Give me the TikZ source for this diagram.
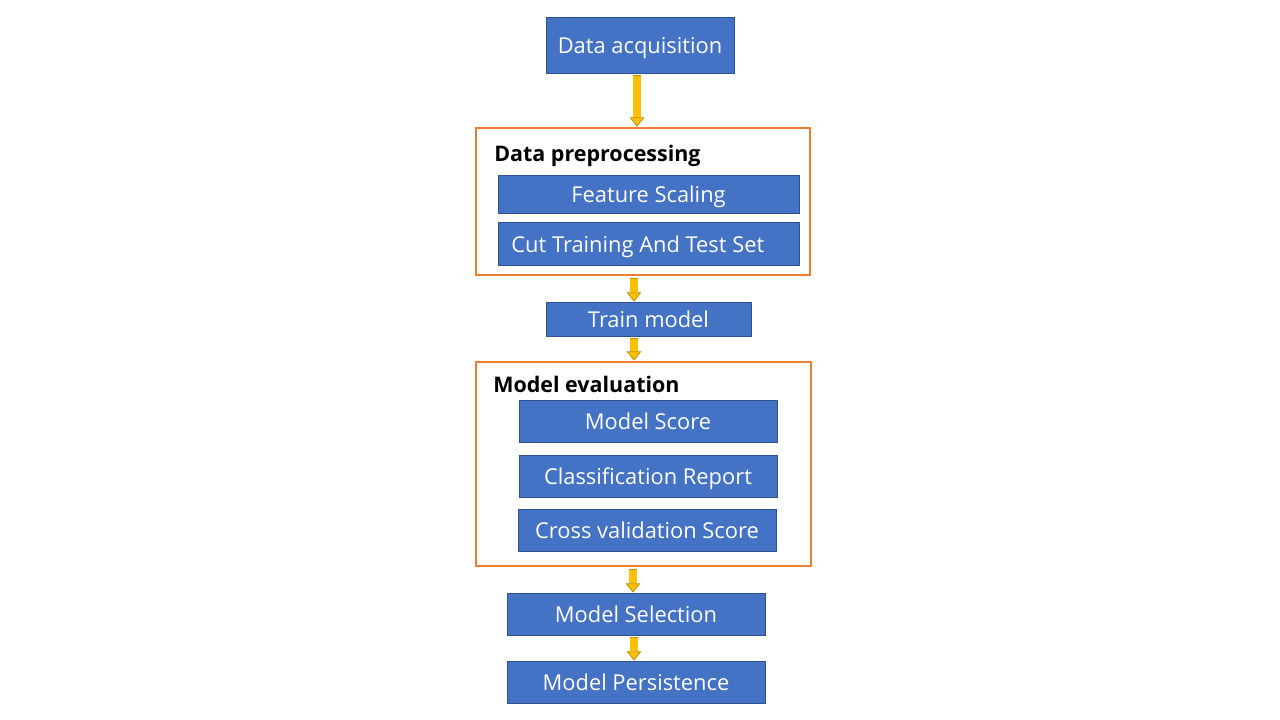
\documentclass[tikz,border=0pt]{standalone}
\usepackage{fontspec}
\setmainfont{Open Sans}
\usetikzlibrary{arrows.meta}
\definecolor{boxblue}{HTML}{4472C4}
\definecolor{boxedge}{HTML}{2F528F}
\definecolor{frameorange}{HTML}{ED7D31}
\definecolor{arrowfill}{HTML}{FFC000}
\definecolor{arrowedge}{HTML}{BF9000}
\tikzset{
  stepbox/.style={draw=boxedge, line width=0.6pt, fill=boxblue, text=white,
    font=\fontsize{16.4}{18}\selectfont, inner sep=0pt, text height=15.8pt, text depth=2.6pt},
  frame/.style={draw=frameorange, line width=2pt, fill=white, inner sep=0pt},
  frametitle/.style={anchor=west, inner sep=0pt, font=\fontsize{16.1}{18}\selectfont\bfseries,
    text=black, text height=14.5pt, text depth=2.5pt},
  flowout/.style={draw=arrowedge, line width=6.6pt, shorten <=1.5pt, shorten >=7pt},
  flowin/.style={draw=arrowfill, line width=5.4pt, shorten <=2.1pt,
    -{Triangle[length=7pt,width=11pt,color=arrowedge,fill=arrowfill,line width=0.6pt]}}
}
\begin{document}
\begin{tikzpicture}[x=0.75pt,y=-0.75pt]
\useasboundingbox (0,0) rectangle (1280,720);
% nodes
\node[stepbox, minimum width=188*0.75pt, minimum height=56*0.75pt] (acq) at (640,45) {Data acquisition};
\node[frame, minimum width=334*0.75pt, minimum height=147*0.75pt] (prep) at (643,201.5) {};
\node[frametitle] (preptitle) at (494,154) {Data preprocessing};
\node[stepbox, minimum width=301*0.75pt, minimum height=38*0.75pt] (fs) at (648.5,194) {Feature Scaling};
\node[stepbox, minimum width=301*0.75pt, minimum height=43*0.75pt] (cut) at (648.5,243.5) {Cut Training And Test Set\kern16pt};
\node[stepbox, minimum width=205*0.75pt, minimum height=34*0.75pt] (train) at (648.5,319) {Train model};
\node[frame, minimum width=335*0.75pt, minimum height=204*0.75pt] (eval) at (643.5,464) {};
\node[frametitle] (evaltitle) at (493,384) {Model evaluation};
\node[stepbox, minimum width=258*0.75pt, minimum height=42*0.75pt] (score) at (648,421) {Model Score};
\node[stepbox, minimum width=258*0.75pt, minimum height=42*0.75pt] (report) at (648,476) {Classification Report};
\node[stepbox, minimum width=258*0.75pt, minimum height=42*0.75pt] (cv) at (647,530) {Cross validation Score};
\node[stepbox, minimum width=258*0.75pt, minimum height=42*0.75pt] (sel) at (636,614) {Model Selection};
\node[stepbox, minimum width=258*0.75pt, minimum height=42*0.75pt] (pers) at (636,682) {Model Persistence};
% arrow columns
\coordinate (c1) at (637,0);
\coordinate (c2) at (634,0);
\coordinate (c3) at (634,0);
\coordinate (c4) at (633,0);
\coordinate (c5) at (634,0);
\foreach \a/\b/\c in {acq/prep/c1, prep/train/c2, train/eval/c3, eval/sel/c4, sel/pers/c5}{
  \draw[flowout] (\a.south -| \c) -- (\b.north -| \c);
  \draw[flowin] (\a.south -| \c) -- (\b.north -| \c);
}
\end{tikzpicture}
\end{document}
